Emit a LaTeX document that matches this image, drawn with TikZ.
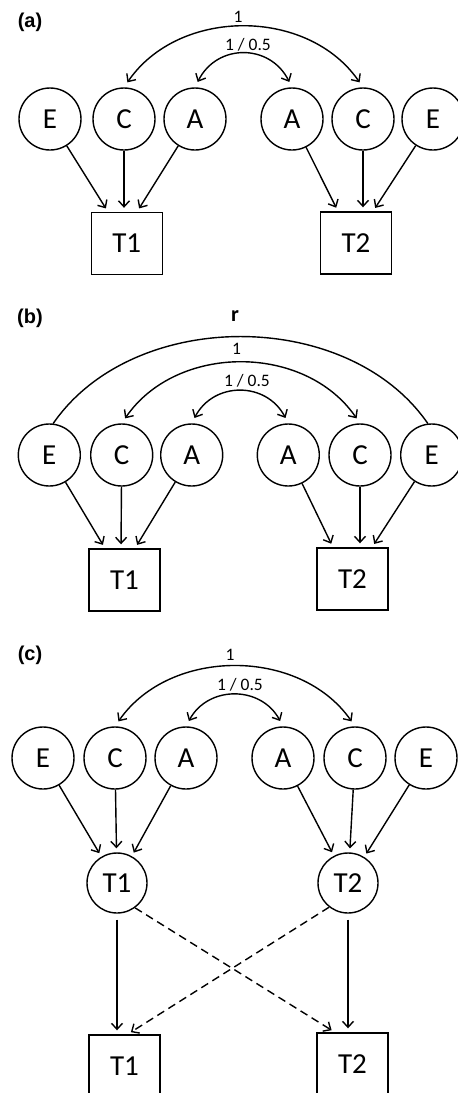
\documentclass[tikz,border=0pt]{standalone}
\usepackage{fontspec}
\setmainfont{Carlito}
\newfontfamily\panelfont{Liberation Sans}
\usetikzlibrary{arrows.meta}
\tikzset{
lat/.style={draw,shape=circle,minimum size=62pt,inner sep=0pt,font=\fontsize{29}{30}\selectfont},
obs/.style={draw,shape=rectangle,minimum width=71pt,minimum height=62pt,inner sep=0pt,font=\fontsize{29}{30}\selectfont},
arr/.style={->,shorten >=4pt},
cov/.style={<->,shorten <=6pt,shorten >=6pt},
lab/.style={font=\fontsize{17.5}{18}\selectfont},
panel/.style={font=\panelfont\bfseries\fontsize{20}{20}\selectfont}
}
\begin{document}
\begin{tikzpicture}[x=1pt,y=-1pt,line width=1.4pt,>={Straight Barb[length=6pt,width=11pt]}]
\useasboundingbox (0,0) rectangle (458,1093);
\clip (0,0) rectangle (458,1093);
% (a)
\node[panel] (pa) at (30,22) {(a)};
\node[lat] (Ea1) at (50,119) {E};
\node[lat] (Ca1) at (124,119) {C};
\node[lat] (Aa1) at (195,119) {A};
\node[lat] (Aa2) at (292,119) {A};
\node[lat] (Ca2) at (363,119) {C};
\node[lat] (Ea2) at (433,119) {E};
\node[obs] (Ta1) at (126.7,243.5) {T1};
\node[obs] (Ta2) at (356,243) {T2};
\draw[arr] (Ea1) -- ([xshift=-18.7pt]Ta1.north);
\draw[arr] (Ca1) -- ([xshift=-2.7pt]Ta1.north);
\draw[arr] (Aa1) -- ([xshift=10.3pt]Ta1.north);
\draw[arr] (Aa2) -- ([xshift=-18pt]Ta2.north);
\draw[arr] (Ca2) -- ([xshift=7pt]Ta2.north);
\draw[arr] (Ea2) -- ([xshift=17pt]Ta2.north);
\draw[cov] (Ca1.north) .. controls +(55,-80) and +(-55,-80) .. (Ca2.north);
\draw[cov] (Aa1.north) .. controls +(22,-44) and +(-22,-44) .. (Aa2.north);
\node[lab] (la1) at (238,17) {1};
\node[lab] (la2) at (248,45) {1 / 0.5};
% (b)
\node[panel] (pb) at (30,318) {(b)};
\node[lat] (Eb1) at (49.3,455) {E};
\node[lat] (Cb1) at (121.7,455) {C};
\node[lat] (Ab1) at (191.7,455) {A};
\node[lat] (Ab2) at (288.3,455) {A};
\node[lat] (Cb2) at (360,455) {C};
\node[lat] (Eb2) at (431.7,455) {E};
\node[obs] (Tb1) at (124.5,580) {T1};
\node[obs] (Tb2) at (352.5,579) {T2};
\draw[arr] (Eb1) -- ([xshift=-19.5pt]Tb1.north);
\draw[arr] (Cb1) -- ([xshift=-3.5pt]Tb1.north);
\draw[arr] (Ab1) -- ([xshift=10.5pt]Tb1.north);
\draw[arr] (Ab2) -- ([xshift=-19.5pt]Tb2.north);
\draw[arr] (Cb2) -- ([xshift=7.5pt]Tb2.north);
\draw[arr] (Eb2) -- ([xshift=19.5pt]Tb2.north);
\draw (Eb1.83) .. controls +(80,-116) and +(-80,-116) .. (Eb2.97);
\draw[cov] (Cb1.north) .. controls +(55,-80) and +(-55,-80) .. (Cb2.north);
\draw[cov] (Ab1.north) .. controls +(22,-42) and +(-22,-42) .. (Ab2.north);
\node[font=\bfseries\fontsize{22}{22}\selectfont] (lr) at (235,316) {r};
\node[lab] (lb1) at (236.5,349) {1};
\node[lab] (lb2) at (247,381) {1 / 0.5};
% (c)
\node[panel] (pc) at (30,655) {(c)};
\node[lat] (Ec1) at (43,758) {E};
\node[lat] (Cc1) at (115,758) {C};
\node[lat] (Ac1) at (186,758) {A};
\node[lat] (Ac2) at (283,758) {A};
\node[lat] (Cc2) at (355,758) {C};
\node[lat] (Ec2) at (426,758) {E};
\node[lat,minimum size=60pt] (T1c) at (117,883) {T1};
\node[lat,minimum size=60pt] (T2c) at (348,883) {T2};
\node[obs] (Tc1) at (124.5,1066) {T1};
\node[obs] (Tc2) at (352.5,1064) {T2};
\draw[arr] (Ec1) -- (T1c);
\draw[arr] (Cc1) -- (T1c);
\draw[arr] (Ac1) -- (T1c);
\draw[arr] (Ac2) -- (T2c);
\draw[arr] (Cc2) -- (T2c);
\draw[arr] (Ec2) -- (T2c);
\draw[cov] (Cc1.north) .. controls +(55,-79) and +(-55,-79) .. (Cc2.north);
\draw[cov] (Ac1.north) .. controls +(22,-41) and +(-22,-41) .. (Ac2.north);
\node[lab] (lc1) at (230,655) {1};
\node[lab] (lc2) at (240,685) {1 / 0.5};
\draw[arr,shorten <=6pt] (T1c) -- (T1c |- Tc1.north);
\draw[arr,shorten <=6pt] (T2c) -- (T2c |- Tc2.north);
\draw[arr,dash pattern=on 8pt off 5pt] (T1c.-54) -- ([xshift=-17.5pt]Tc2.north);
\draw[arr,dash pattern=on 8pt off 5pt] (T2c.-128) -- ([xshift=3pt]Tc1.north);
\end{tikzpicture}
\end{document}
